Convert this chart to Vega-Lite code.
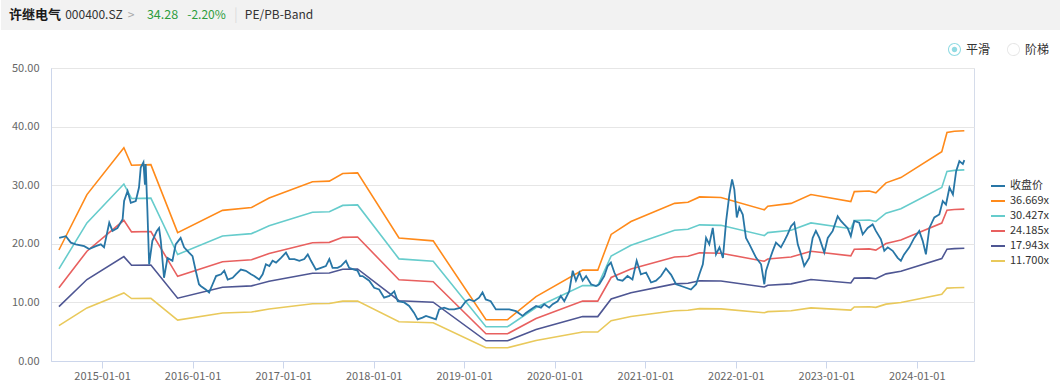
{
  "$schema": "https://vega.github.io/schema/vega-lite/v6.json",
  "padding": 0,
  "background": "white",
  "spacing": 12,
  "config": {"font": "Noto Sans CJK SC", "view": {"stroke": null}},
  "resolve": {
    "scale": {"color": "independent", "fill": "independent", "shape": "independent"},
    "legend": {"color": "independent", "fill": "independent", "shape": "independent"}
  },
  "datasets": {
    "bands": [
      {"d":"2014-07-11","s":"36.669x","v":18.94},{"d":"2014-07-11","s":"30.427x","v":15.72},{"d":"2014-07-11","s":"24.185x","v":12.49},{"d":"2014-07-11","s":"17.943x","v":9.27},{"d":"2014-07-11","s":"11.700x","v":6.04},
      {"d":"2014-11-01","s":"36.669x","v":28.4},{"d":"2014-11-01","s":"30.427x","v":23.57},{"d":"2014-11-01","s":"24.185x","v":18.73},{"d":"2014-11-01","s":"17.943x","v":13.9},{"d":"2014-11-01","s":"11.700x","v":9.06},
      {"d":"2015-03-30","s":"36.669x","v":36.4},{"d":"2015-03-30","s":"30.427x","v":30.2},{"d":"2015-03-30","s":"24.185x","v":24.01},{"d":"2015-03-30","s":"17.943x","v":17.81},{"d":"2015-03-30","s":"11.700x","v":11.62},
      {"d":"2015-04-30","s":"36.669x","v":33.4},{"d":"2015-04-30","s":"30.427x","v":27.72},{"d":"2015-04-30","s":"24.185x","v":22.03},{"d":"2015-04-30","s":"17.943x","v":16.34},{"d":"2015-04-30","s":"11.700x","v":10.66},
      {"d":"2015-07-17","s":"36.669x","v":33.5},{"d":"2015-07-17","s":"30.427x","v":27.8},{"d":"2015-07-17","s":"24.185x","v":22.09},{"d":"2015-07-17","s":"17.943x","v":16.39},{"d":"2015-07-17","s":"11.700x","v":10.69},
      {"d":"2015-11-02","s":"36.669x","v":21.9},{"d":"2015-11-02","s":"30.427x","v":18.17},{"d":"2015-11-02","s":"24.185x","v":14.44},{"d":"2015-11-02","s":"17.943x","v":10.72},{"d":"2015-11-02","s":"11.700x","v":6.99},
      {"d":"2016-05-01","s":"36.669x","v":25.7},{"d":"2016-05-01","s":"30.427x","v":21.33},{"d":"2016-05-01","s":"24.185x","v":16.95},{"d":"2016-05-01","s":"17.943x","v":12.58},{"d":"2016-05-01","s":"11.700x","v":8.2},
      {"d":"2016-08-26","s":"36.669x","v":26.2},{"d":"2016-08-26","s":"30.427x","v":21.74},{"d":"2016-08-26","s":"24.185x","v":17.28},{"d":"2016-08-26","s":"17.943x","v":12.82},{"d":"2016-08-26","s":"11.700x","v":8.36},
      {"d":"2016-11-05","s":"36.669x","v":27.8},{"d":"2016-11-05","s":"30.427x","v":23.07},{"d":"2016-11-05","s":"24.185x","v":18.33},{"d":"2016-11-05","s":"17.943x","v":13.6},{"d":"2016-11-05","s":"11.700x","v":8.87},
      {"d":"2017-04-29","s":"36.669x","v":30.6},{"d":"2017-04-29","s":"30.427x","v":25.39},{"d":"2017-04-29","s":"24.185x","v":20.18},{"d":"2017-04-29","s":"17.943x","v":14.97},{"d":"2017-04-29","s":"11.700x","v":9.76},
      {"d":"2017-07-06","s":"36.669x","v":30.7},{"d":"2017-07-06","s":"30.427x","v":25.47},{"d":"2017-07-06","s":"24.185x","v":20.25},{"d":"2017-07-06","s":"17.943x","v":15.02},{"d":"2017-07-06","s":"11.700x","v":9.8},
      {"d":"2017-08-29","s":"36.669x","v":32.0},{"d":"2017-08-29","s":"30.427x","v":26.55},{"d":"2017-08-29","s":"24.185x","v":21.1},{"d":"2017-08-29","s":"17.943x","v":15.66},{"d":"2017-08-29","s":"11.700x","v":10.21},
      {"d":"2017-10-28","s":"36.669x","v":32.1},{"d":"2017-10-28","s":"30.427x","v":26.64},{"d":"2017-10-28","s":"24.185x","v":21.17},{"d":"2017-10-28","s":"17.943x","v":15.71},{"d":"2017-10-28","s":"11.700x","v":10.24},
      {"d":"2018-04-13","s":"36.669x","v":21.0},{"d":"2018-04-13","s":"30.427x","v":17.43},{"d":"2018-04-13","s":"24.185x","v":13.85},{"d":"2018-04-13","s":"17.943x","v":10.28},{"d":"2018-04-13","s":"11.700x","v":6.7},
      {"d":"2018-08-29","s":"36.669x","v":20.5},{"d":"2018-08-29","s":"30.427x","v":17.01},{"d":"2018-08-29","s":"24.185x","v":13.52},{"d":"2018-08-29","s":"17.943x","v":10.03},{"d":"2018-08-29","s":"11.700x","v":6.54},
      {"d":"2019-03-30","s":"36.669x","v":7.05},{"d":"2019-03-30","s":"30.427x","v":5.85},{"d":"2019-03-30","s":"24.185x","v":4.65},{"d":"2019-03-30","s":"17.943x","v":3.45},{"d":"2019-03-30","s":"11.700x","v":2.25},
      {"d":"2019-06-25","s":"36.669x","v":7.05},{"d":"2019-06-25","s":"30.427x","v":5.85},{"d":"2019-06-25","s":"24.185x","v":4.65},{"d":"2019-06-25","s":"17.943x","v":3.45},{"d":"2019-06-25","s":"11.700x","v":2.25},
      {"d":"2019-10-18","s":"36.669x","v":11.0},{"d":"2019-10-18","s":"30.427x","v":9.13},{"d":"2019-10-18","s":"24.185x","v":7.25},{"d":"2019-10-18","s":"17.943x","v":5.38},{"d":"2019-10-18","s":"11.700x","v":3.51},
      {"d":"2020-04-23","s":"36.669x","v":15.5},{"d":"2020-04-23","s":"30.427x","v":12.86},{"d":"2020-04-23","s":"24.185x","v":10.22},{"d":"2020-04-23","s":"17.943x","v":7.58},{"d":"2020-04-23","s":"11.700x","v":4.95},
      {"d":"2020-06-23","s":"36.669x","v":15.5},{"d":"2020-06-23","s":"30.427x","v":12.86},{"d":"2020-06-23","s":"24.185x","v":10.22},{"d":"2020-06-23","s":"17.943x","v":7.58},{"d":"2020-06-23","s":"11.700x","v":4.95},
      {"d":"2020-08-16","s":"36.669x","v":21.6},{"d":"2020-08-16","s":"30.427x","v":17.92},{"d":"2020-08-16","s":"24.185x","v":14.25},{"d":"2020-08-16","s":"17.943x","v":10.57},{"d":"2020-08-16","s":"11.700x","v":6.89},
      {"d":"2020-11-04","s":"36.669x","v":23.8},{"d":"2020-11-04","s":"30.427x","v":19.75},{"d":"2020-11-04","s":"24.185x","v":15.7},{"d":"2020-11-04","s":"17.943x","v":11.65},{"d":"2020-11-04","s":"11.700x","v":7.59},
      {"d":"2021-04-29","s":"36.669x","v":26.9},{"d":"2021-04-29","s":"30.427x","v":22.32},{"d":"2021-04-29","s":"24.185x","v":17.74},{"d":"2021-04-29","s":"17.943x","v":13.16},{"d":"2021-04-29","s":"11.700x","v":8.58},
      {"d":"2021-06-22","s":"36.669x","v":27.1},{"d":"2021-06-22","s":"30.427x","v":22.49},{"d":"2021-06-22","s":"24.185x","v":17.87},{"d":"2021-06-22","s":"17.943x","v":13.26},{"d":"2021-06-22","s":"11.700x","v":8.65},
      {"d":"2021-08-08","s":"36.669x","v":28.0},{"d":"2021-08-08","s":"30.427x","v":23.23},{"d":"2021-08-08","s":"24.185x","v":18.47},{"d":"2021-08-08","s":"17.943x","v":13.7},{"d":"2021-08-08","s":"11.700x","v":8.93},
      {"d":"2021-11-02","s":"36.669x","v":27.9},{"d":"2021-11-02","s":"30.427x","v":23.15},{"d":"2021-11-02","s":"24.185x","v":18.4},{"d":"2021-11-02","s":"17.943x","v":13.65},{"d":"2021-11-02","s":"11.700x","v":8.9},
      {"d":"2022-04-26","s":"36.669x","v":25.8},{"d":"2022-04-26","s":"30.427x","v":21.41},{"d":"2022-04-26","s":"24.185x","v":17.02},{"d":"2022-04-26","s":"17.943x","v":12.62},{"d":"2022-04-26","s":"11.700x","v":8.23},
      {"d":"2022-05-10","s":"36.669x","v":26.4},{"d":"2022-05-10","s":"30.427x","v":21.91},{"d":"2022-05-10","s":"24.185x","v":17.41},{"d":"2022-05-10","s":"17.943x","v":12.92},{"d":"2022-05-10","s":"11.700x","v":8.42},
      {"d":"2022-08-12","s":"36.669x","v":26.9},{"d":"2022-08-12","s":"30.427x","v":22.32},{"d":"2022-08-12","s":"24.185x","v":17.74},{"d":"2022-08-12","s":"17.943x","v":13.16},{"d":"2022-08-12","s":"11.700x","v":8.58},
      {"d":"2022-10-31","s":"36.669x","v":28.4},{"d":"2022-10-31","s":"30.427x","v":23.57},{"d":"2022-10-31","s":"24.185x","v":18.73},{"d":"2022-10-31","s":"17.943x","v":13.9},{"d":"2022-10-31","s":"11.700x","v":9.06},
      {"d":"2023-04-10","s":"36.669x","v":27.2},{"d":"2023-04-10","s":"30.427x","v":22.57},{"d":"2023-04-10","s":"24.185x","v":17.94},{"d":"2023-04-10","s":"17.943x","v":13.31},{"d":"2023-04-10","s":"11.700x","v":8.68},
      {"d":"2023-04-24","s":"36.669x","v":28.9},{"d":"2023-04-24","s":"30.427x","v":23.98},{"d":"2023-04-24","s":"24.185x","v":19.06},{"d":"2023-04-24","s":"17.943x","v":14.14},{"d":"2023-04-24","s":"11.700x","v":9.22},
      {"d":"2023-06-23","s":"36.669x","v":29.0},{"d":"2023-06-23","s":"30.427x","v":24.06},{"d":"2023-06-23","s":"24.185x","v":19.13},{"d":"2023-06-23","s":"17.943x","v":14.19},{"d":"2023-06-23","s":"11.700x","v":9.25},
      {"d":"2023-07-20","s":"36.669x","v":28.7},{"d":"2023-07-20","s":"30.427x","v":23.82},{"d":"2023-07-20","s":"24.185x","v":18.93},{"d":"2023-07-20","s":"17.943x","v":14.04},{"d":"2023-07-20","s":"11.700x","v":9.16},
      {"d":"2023-08-30","s":"36.669x","v":30.4},{"d":"2023-08-30","s":"30.427x","v":25.23},{"d":"2023-08-30","s":"24.185x","v":20.05},{"d":"2023-08-30","s":"17.943x","v":14.87},{"d":"2023-08-30","s":"11.700x","v":9.7},
      {"d":"2023-10-29","s":"36.669x","v":31.3},{"d":"2023-10-29","s":"30.427x","v":25.97},{"d":"2023-10-29","s":"24.185x","v":20.64},{"d":"2023-10-29","s":"17.943x","v":15.32},{"d":"2023-10-29","s":"11.700x","v":9.99},
      {"d":"2024-04-11","s":"36.669x","v":35.7},{"d":"2024-04-11","s":"30.427x","v":29.62},{"d":"2024-04-11","s":"24.185x","v":23.54},{"d":"2024-04-11","s":"17.943x","v":17.47},{"d":"2024-04-11","s":"11.700x","v":11.39},
      {"d":"2024-05-02","s":"36.669x","v":39.0},{"d":"2024-05-02","s":"30.427x","v":32.36},{"d":"2024-05-02","s":"24.185x","v":25.72},{"d":"2024-05-02","s":"17.943x","v":19.08},{"d":"2024-05-02","s":"11.700x","v":12.44},
      {"d":"2024-06-01","s":"36.669x","v":39.2},{"d":"2024-06-01","s":"30.427x","v":32.53},{"d":"2024-06-01","s":"24.185x","v":25.85},{"d":"2024-06-01","s":"17.943x","v":19.18},{"d":"2024-06-01","s":"11.700x","v":12.51},
      {"d":"2024-07-11","s":"36.669x","v":39.3},{"d":"2024-07-11","s":"30.427x","v":32.61},{"d":"2024-07-11","s":"24.185x","v":25.92},{"d":"2024-07-11","s":"17.943x","v":19.23},{"d":"2024-07-11","s":"11.700x","v":12.54}
    ],
    "price": [
      {"d":"2014-07-12","v":21.0},{"d":"2014-08-08","v":21.3},{"d":"2014-08-28","v":20.2},{"d":"2014-09-17","v":19.9},{"d":"2014-10-21","v":19.6},{"d":"2014-11-10","v":19.1},{"d":"2014-12-07","v":19.6},{"d":"2014-12-27","v":19.9},
      {"d":"2015-01-09","v":19.4},{"d":"2015-01-30","v":23.6},{"d":"2015-02-12","v":22.2},{"d":"2015-03-04","v":22.7},{"d":"2015-03-25","v":24.2},{"d":"2015-03-31","v":27.3},{"d":"2015-04-14","v":29.0},{"d":"2015-04-27","v":27.0},{"d":"2015-05-17","v":27.3},{"d":"2015-05-30","v":29.6},{"d":"2015-06-06","v":33.0},{"d":"2015-06-17","v":33.9},{"d":"2015-06-23","v":30.1},{"d":"2015-06-26","v":33.6},{"d":"2015-07-03","v":25.6},{"d":"2015-07-10","v":16.5},{"d":"2015-07-23","v":20.5},{"d":"2015-08-10","v":22.2},{"d":"2015-08-19","v":22.7},{"d":"2015-08-26","v":20.5},{"d":"2015-09-08","v":14.2},{"d":"2015-09-22","v":17.6},{"d":"2015-10-12","v":17.1},{"d":"2015-10-25","v":19.9},{"d":"2015-11-14","v":21.0},{"d":"2015-11-28","v":19.4},{"d":"2015-12-18","v":18.5},
      {"d":"2016-01-01","v":17.9},{"d":"2016-01-14","v":15.4},{"d":"2016-01-27","v":13.1},{"d":"2016-02-03","v":12.8},{"d":"2016-02-23","v":12.2},{"d":"2016-03-08","v":11.7},{"d":"2016-03-22","v":13.1},{"d":"2016-04-05","v":14.5},{"d":"2016-04-25","v":14.8},{"d":"2016-05-08","v":15.4},{"d":"2016-05-22","v":13.9},{"d":"2016-06-11","v":14.2},{"d":"2016-06-24","v":14.8},{"d":"2016-07-14","v":15.6},{"d":"2016-08-03","v":15.4},{"d":"2016-08-24","v":14.8},{"d":"2016-09-06","v":14.5},{"d":"2016-09-26","v":13.9},{"d":"2016-10-10","v":14.8},{"d":"2016-10-23","v":16.5},{"d":"2016-11-06","v":16.2},{"d":"2016-11-19","v":17.1},{"d":"2016-12-03","v":16.8},{"d":"2016-12-23","v":17.6},
      {"d":"2017-01-12","v":18.5},{"d":"2017-01-26","v":17.4},{"d":"2017-02-15","v":17.4},{"d":"2017-03-07","v":17.1},{"d":"2017-03-27","v":17.4},{"d":"2017-04-10","v":18.2},{"d":"2017-04-23","v":17.1},{"d":"2017-05-13","v":15.6},{"d":"2017-06-02","v":15.9},{"d":"2017-06-22","v":16.2},{"d":"2017-07-06","v":17.4},{"d":"2017-07-19","v":15.9},{"d":"2017-08-08","v":15.9},{"d":"2017-08-22","v":16.2},{"d":"2017-09-11","v":17.1},{"d":"2017-09-24","v":15.9},{"d":"2017-10-14","v":15.6},{"d":"2017-10-28","v":15.4},{"d":"2017-11-07","v":14.5},{"d":"2017-11-17","v":14.5},{"d":"2017-12-14","v":13.7},
      {"d":"2018-01-03","v":12.5},{"d":"2018-01-23","v":12.2},{"d":"2018-02-12","v":10.8},{"d":"2018-03-05","v":11.1},{"d":"2018-03-25","v":11.9},{"d":"2018-04-08","v":10.2},{"d":"2018-05-04","v":10.0},{"d":"2018-05-24","v":9.4},{"d":"2018-06-13","v":8.2},{"d":"2018-06-27","v":7.1},{"d":"2018-07-17","v":7.4},{"d":"2018-07-31","v":7.7},{"d":"2018-08-20","v":7.4},{"d":"2018-09-09","v":7.1},{"d":"2018-09-22","v":8.8},{"d":"2018-10-12","v":9.1},{"d":"2018-11-01","v":8.8},{"d":"2018-11-22","v":8.8},{"d":"2018-12-19","v":9.1},
      {"d":"2019-01-08","v":10.2},{"d":"2019-01-21","v":10.5},{"d":"2019-02-10","v":10.2},{"d":"2019-03-02","v":10.8},{"d":"2019-03-16","v":11.7},{"d":"2019-03-29","v":10.5},{"d":"2019-04-18","v":10.2},{"d":"2019-05-09","v":8.8},{"d":"2019-06-05","v":8.8},{"d":"2019-07-02","v":8.8},{"d":"2019-07-29","v":8.5},{"d":"2019-08-25","v":7.7},{"d":"2019-09-07","v":8.2},{"d":"2019-09-27","v":8.8},{"d":"2019-10-18","v":9.4},{"d":"2019-11-07","v":9.1},{"d":"2019-11-20","v":9.7},{"d":"2019-12-10","v":9.1},{"d":"2019-12-24","v":9.7},
      {"d":"2020-01-13","v":10.2},{"d":"2020-01-26","v":11.1},{"d":"2020-02-09","v":10.2},{"d":"2020-02-29","v":11.9},{"d":"2020-03-14","v":15.4},{"d":"2020-03-27","v":13.7},{"d":"2020-04-10","v":15.1},{"d":"2020-04-23","v":13.7},{"d":"2020-05-07","v":14.5},{"d":"2020-05-27","v":13.1},{"d":"2020-06-16","v":12.8},{"d":"2020-06-29","v":13.1},{"d":"2020-07-19","v":14.5},{"d":"2020-08-02","v":16.2},{"d":"2020-08-15","v":16.8},{"d":"2020-08-29","v":15.1},{"d":"2020-09-11","v":13.9},{"d":"2020-10-01","v":13.7},{"d":"2020-10-21","v":14.5},{"d":"2020-11-10","v":13.9},{"d":"2020-11-27","v":17.1},{"d":"2020-12-14","v":14.8},
      {"d":"2021-01-04","v":15.1},{"d":"2021-01-24","v":13.4},{"d":"2021-02-13","v":13.7},{"d":"2021-03-05","v":14.5},{"d":"2021-03-25","v":15.8},{"d":"2021-04-15","v":14.7},{"d":"2021-05-05","v":13.1},{"d":"2021-05-25","v":12.8},{"d":"2021-06-14","v":12.5},{"d":"2021-07-04","v":12.2},{"d":"2021-07-25","v":13.1},{"d":"2021-08-07","v":14.8},{"d":"2021-08-21","v":16.5},{"d":"2021-09-03","v":21.0},{"d":"2021-09-16","v":19.9},{"d":"2021-09-30","v":22.7},{"d":"2021-10-13","v":18.2},{"d":"2021-10-27","v":19.4},{"d":"2021-11-10","v":17.6},{"d":"2021-11-23","v":23.9},{"d":"2021-12-06","v":28.4},{"d":"2021-12-17","v":31.0},{"d":"2021-12-26","v":29.3},
      {"d":"2022-01-05","v":24.5},{"d":"2022-01-15","v":26.2},{"d":"2022-01-29","v":25.0},{"d":"2022-02-11","v":21.0},{"d":"2022-02-25","v":19.9},{"d":"2022-03-10","v":18.8},{"d":"2022-03-24","v":17.6},{"d":"2022-04-13","v":16.5},{"d":"2022-04-26","v":13.1},{"d":"2022-05-03","v":15.4},{"d":"2022-05-16","v":17.1},{"d":"2022-05-30","v":18.8},{"d":"2022-06-12","v":20.2},{"d":"2022-07-02","v":19.4},{"d":"2022-07-16","v":20.5},{"d":"2022-07-29","v":21.6},{"d":"2022-08-12","v":23.0},{"d":"2022-08-25","v":23.6},{"d":"2022-09-08","v":19.9},{"d":"2022-09-21","v":18.2},{"d":"2022-10-04","v":16.2},{"d":"2022-10-24","v":17.6},{"d":"2022-11-07","v":21.0},{"d":"2022-11-20","v":22.2},{"d":"2022-12-04","v":21.0},{"d":"2022-12-24","v":18.5},
      {"d":"2023-01-07","v":21.0},{"d":"2023-01-27","v":22.2},{"d":"2023-02-16","v":24.7},{"d":"2023-03-01","v":23.9},{"d":"2023-03-14","v":23.3},{"d":"2023-03-28","v":22.7},{"d":"2023-04-10","v":21.3},{"d":"2023-04-24","v":23.9},{"d":"2023-05-14","v":23.6},{"d":"2023-05-28","v":21.6},{"d":"2023-06-17","v":22.7},{"d":"2023-07-07","v":23.3},{"d":"2023-07-20","v":22.2},{"d":"2023-08-09","v":20.8},{"d":"2023-08-23","v":18.8},{"d":"2023-09-06","v":19.4},{"d":"2023-09-26","v":18.8},{"d":"2023-10-16","v":17.6},{"d":"2023-10-29","v":17.1},{"d":"2023-11-11","v":18.2},{"d":"2023-12-02","v":19.4},{"d":"2023-12-22","v":21.0},
      {"d":"2024-01-11","v":22.2},{"d":"2024-01-25","v":20.5},{"d":"2024-02-07","v":18.2},{"d":"2024-02-21","v":22.7},{"d":"2024-03-12","v":24.5},{"d":"2024-04-01","v":25.0},{"d":"2024-04-15","v":27.3},{"d":"2024-04-28","v":26.7},{"d":"2024-05-12","v":29.6},{"d":"2024-05-26","v":28.4},{"d":"2024-06-08","v":32.4},{"d":"2024-06-21","v":34.1},{"d":"2024-07-05","v":33.6},{"d":"2024-07-11","v":34.28}
    ],
    "modes": [{"m":"平滑"},{"m":"阶梯"}]
  },
  "vconcat": [
    {
      "hconcat": [
        {"width": 4, "height": 30, "view": {"fill": "#f2f2f2", "stroke": null}, "data": {"values": [{"t": ""}]}, "mark": {"type": "text"}, "encoding": {"text": {"field": "t"}}},
        {"width": 60, "height": 30, "view": {"fill": "#f2f2f2", "stroke": null}, "data": {"values": [{"t": "许继电气"}]}, "mark": {"type": "text", "fontSize": 13, "fontWeight": "bold", "color": "#1a1a1a"}, "encoding": {"text": {"field": "t"}}},
        {"width": 58, "height": 30, "view": {"fill": "#f2f2f2", "stroke": null}, "data": {"values": [{"t": "000400.SZ"}]}, "mark": {"type": "text", "fontSize": 12, "color": "#333333"}, "encoding": {"text": {"field": "t"}}},
        {"width": 16, "height": 30, "view": {"fill": "#f2f2f2", "stroke": null}, "data": {"values": [{"t": ">"}]}, "mark": {"type": "text", "fontSize": 12, "color": "#aaaaaa"}, "encoding": {"text": {"field": "t"}}},
        {"width": 47, "height": 30, "view": {"fill": "#f2f2f2", "stroke": null}, "data": {"values": [{"t": "34.28"}]}, "mark": {"type": "text", "fontSize": 12.5, "color": "#2e9d3e"}, "encoding": {"text": {"field": "t"}}},
        {"width": 41, "height": 30, "view": {"fill": "#f2f2f2", "stroke": null}, "data": {"values": [{"t": "-2.20%"}]}, "mark": {"type": "text", "fontSize": 12, "color": "#2e9d3e"}, "encoding": {"text": {"field": "t"}}},
        {"width": 18, "height": 30, "view": {"fill": "#f2f2f2", "stroke": null}, "data": {"values": [{"t": "|"}]}, "mark": {"type": "text", "fontSize": 14, "color": "#dddddd"}, "encoding": {"text": {"field": "t"}}},
        {"width": 68, "height": 30, "view": {"fill": "#f2f2f2", "stroke": null}, "data": {"values": [{"t": "PE/PB-Band"}]}, "mark": {"type": "text", "fontSize": 12, "color": "#333333"}, "encoding": {"text": {"field": "t"}}},
        {"width": 748, "height": 30, "view": {"fill": "#f2f2f2", "stroke": null}, "data": {"values": [{"t": ""}]}, "mark": {"type": "text"}, "encoding": {"text": {"field": "t"}}}
      ],
      "spacing": 0,
      "bounds": "flush"
    },
    {
      "resolve": {
        "scale": {"color": "independent", "fill": "independent", "shape": "independent"},
        "legend": {"color": "independent", "fill": "independent", "shape": "independent"}
      },
      "spacing": 0,
      "bounds": "flush",
      "hconcat": [
        {"width": 50, "height": 293, "data": {"values": [{"t": ""}]}, "mark": {"type": "text"}, "encoding": {"text": {"field": "t"}}},
        {
          "width": 923,
          "height": 293,
          "view": {"stroke": "#d5dcea"},
          "encoding": {
            "x": {"field": "d", "type": "temporal",
              "scale": {"domain": [{"year": 2014, "month": 6, "date": 9}, {"year": 2024, "month": 8, "date": 19}]},
              "axis": {"title": null, "format": "%Y-%m-%d", "tickCount": {"interval": "year", "step": 1}, "grid": false, "domainColor": "#ccd6eb", "tickColor": "#ccd6eb", "tickSize": 7, "labelColor": "#666666", "labelFontSize": 11, "labelPadding": 2}},
            "y": {"field": "v", "type": "quantitative",
              "scale": {"domain": [0, 50]},
              "axis": {"title": null, "values": [0, 10, 20, 30, 40, 50], "format": ".2f", "ticks": false, "domainColor": "#ccd6eb", "gridColor": "#e6e6e6", "labelColor": "#666666", "labelFontSize": 11, "labelPadding": 12, "minExtent": 50, "maxExtent": 50}}
          },
          "layer": [
            {
              "data": {"name": "bands"},
              "mark": {"type": "line", "strokeWidth": 1.6},
              "encoding": {
                "color": {"field": "s", "type": "nominal",
                  "scale": {"domain": ["收盘价", "36.669x", "30.427x", "24.185x", "17.943x", "11.700x"], "range": ["#2876a6", "#ff8a1a", "#66cccc", "#e8605f", "#4e5693", "#e9c95b"]},
                  "legend": {"orient": "none", "legendX": 939, "legendY": 110, "title": null, "symbolType": "stroke", "symbolSize": 196, "symbolStrokeWidth": 2, "labelFontSize": 11, "labelColor": "#333333", "rowPadding": 2, "labelOffset": 4, "padding": 0}}
              }
            },
            {
              "data": {"name": "price"},
              "mark": {"type": "line", "strokeWidth": 1.8},
              "encoding": {"color": {"datum": "收盘价"}}
            },
            {
              "data": {"name": "modes"},
              "transform": [{"filter": "false"}],
              "mark": {"type": "point", "filled": true},
              "encoding": {
                "fill": {"field": "m", "type": "nominal",
                  "scale": {"domain": ["平滑", "阶梯"], "range": ["#1fb5c6", "#cfcfcf"]},
                  "legend": {"orient": "none", "legendX": 897, "legendY": -25, "title": null, "direction": "horizontal", "symbolSize": 169, "symbolStrokeWidth": 0, "labelFontSize": 12, "labelColor": "#333333", "columnPadding": 16, "labelOffset": 5, "padding": 0}},
                "shape": {"field": "m", "type": "nominal",
                  "scale": {"domain": ["平滑", "阶梯"], "range": ["M-1,0A1,1,0,1,1,1,0A1,1,0,1,1,-1,0ZM-0.84,0A0.84,0.84,0,1,0,0.84,0A0.84,0.84,0,1,0,-0.84,0ZM-0.42,0A0.42,0.42,0,1,1,0.42,0A0.42,0.42,0,1,1,-0.42,0Z", "M-1,0A1,1,0,1,1,1,0A1,1,0,1,1,-1,0ZM-0.86,0A0.86,0.86,0,1,0,0.86,0A0.86,0.86,0,1,0,-0.86,0Z"]},
                  "legend": {"orient": "none", "legendX": 897, "legendY": -25, "title": null, "direction": "horizontal", "symbolSize": 169, "symbolStrokeWidth": 0, "labelFontSize": 12, "labelColor": "#333333", "columnPadding": 16, "labelOffset": 5, "padding": 0}}
              }
            }
          ]
        }
      ]
    }
  ]
}
